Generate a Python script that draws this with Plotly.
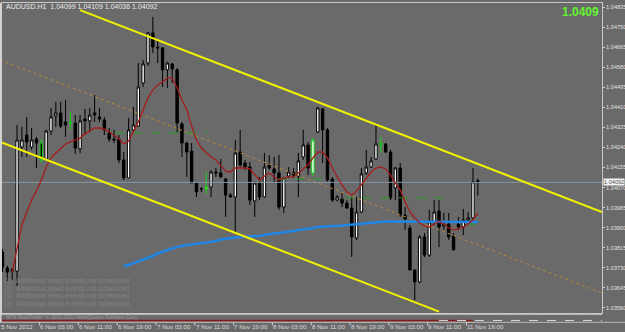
import plotly.graph_objects as go

# ---------------- data ----------------
open_ = [1.03796,1.03728,1.03715,1.03715,1.04242,1.04293,1.04242,1.04276,1.04259,1.04191,
         1.04310,1.04374,1.04387,1.04349,1.04349,1.04344,1.04234,1.04361,1.04353,1.04387,
         1.04370,1.04357,1.04302,1.04276,1.04276,1.04187,1.04111,1.04315,1.04331,1.04514,
         1.04599,1.04727,1.04667,1.04663,1.04570,1.04595,1.04570,1.04340,1.04259,1.04225,
         1.04089,1.04064,1.04064,1.04072,1.04136,1.04132,1.04106,1.04038,1.04030,1.04221,
         1.04174,1.04157,1.04013,1.04089,1.04030,1.04166,1.04149,1.04132,1.03987,1.04119,
         1.04136,1.04119,1.04200,1.04251,1.04132,1.04306,1.04404,1.04315,1.04106,1.04017,
         1.04021,1.04004,1.03983,1.03856,1.03966,1.04132,1.04157,1.04191,1.04259,1.04255,
         1.04221,1.04068,1.04153,1.03953,1.03898,1.03720,1.03669,1.03860,1.03783,1.03924,
         1.03970,1.03907,1.03915,1.03864,1.03915,1.03902,1.03932,1.03941,1.04099]
high = [1.03809,1.03737,1.03728,1.04336,1.04327,1.04370,1.04323,1.04285,1.04276,1.04315,
        1.04408,1.04434,1.04434,1.04442,1.04391,1.04378,1.04378,1.04404,1.04408,1.04463,
        1.04408,1.04370,1.04323,1.04315,1.04293,1.04221,1.04366,1.04412,1.04599,1.04612,
        1.04731,1.04795,1.04697,1.04667,1.04604,1.04599,1.04578,1.04349,1.04264,1.04259,
        1.04094,1.04072,1.04136,1.04145,1.04153,1.04191,1.04111,1.04047,1.04272,1.04315,
        1.04187,1.04179,1.04094,1.04115,1.04217,1.04208,1.04200,1.04208,1.04115,1.04157,
        1.04153,1.04217,1.04315,1.04264,1.04280,1.04412,1.04408,1.04323,1.04115,1.04038,
        1.04047,1.04017,1.04030,1.04030,1.04153,1.04230,1.04200,1.04344,1.04285,1.04259,
        1.04230,1.04157,1.04174,1.03987,1.03911,1.03720,1.03868,1.03877,1.03975,1.04017,
        1.04017,1.03962,1.03962,1.03877,1.03945,1.03979,1.03966,1.04153,1.04109]
low = [1.03711,1.03673,1.03677,1.03652,1.04200,1.04200,1.04230,1.04153,1.04174,1.04187,
       1.04293,1.04327,1.04323,1.04285,1.04315,1.04213,1.04217,1.04293,1.04306,1.04349,
       1.04349,1.04293,1.04264,1.04259,1.04174,1.04102,1.04111,1.04306,1.04331,1.04497,
       1.04587,1.04642,1.04599,1.04497,1.04493,1.04514,1.04302,1.04200,1.04115,1.04089,
       1.04030,1.04051,1.04043,1.04030,1.04115,1.04111,1.03945,1.04026,1.03881,1.04157,
       1.04145,1.03996,1.03945,1.04017,1.04026,1.04145,1.04094,1.03975,1.03962,1.04111,
       1.04111,1.04030,1.04187,1.04123,1.04119,1.04302,1.04174,1.04094,1.04009,1.04013,
       1.03987,1.03979,1.03775,1.03847,1.03962,1.04123,1.04153,1.04187,1.04217,1.04217,
       1.04017,1.04017,1.03945,1.03890,1.03720,1.03592,1.03664,1.03775,1.03775,1.03911,
       1.03817,1.03890,1.03847,1.03805,1.03890,1.03868,1.03924,1.03932,1.04036]
close = [1.03732,1.03711,1.03720,1.04272,1.04272,1.04264,1.04272,1.04259,1.04187,1.04310,
         1.04370,1.04387,1.04331,1.04336,1.04344,1.04238,1.04353,1.04353,1.04378,1.04378,
         1.04361,1.04315,1.04276,1.04272,1.04187,1.04111,1.04315,1.04336,1.04497,1.04595,
         1.04727,1.04667,1.04663,1.04570,1.04599,1.04574,1.04344,1.04259,1.04221,1.04089,
         1.04051,1.04064,1.04072,1.04136,1.04132,1.04115,1.04038,1.04030,1.04217,1.04166,
         1.04157,1.04017,1.04089,1.04030,1.04157,1.04153,1.04132,1.03987,1.04111,1.04136,
         1.04123,1.04183,1.04251,1.04153,1.04272,1.04408,1.04315,1.04102,1.04017,1.04030,
         1.04004,1.03983,1.03860,1.03966,1.04128,1.04157,1.04183,1.04255,1.04251,1.04221,
         1.04026,1.04153,1.03953,1.03936,1.03720,1.03669,1.03860,1.03783,1.03924,1.03966,
         1.03902,1.03915,1.03860,1.03805,1.03902,1.03932,1.03941,1.04094,1.04092]
flagged_bars = [8, 14, 42, 64, 78]          # candles painted green by an indicator

red_ma_start = 2
red_ma = [1.03711,1.03805,1.03911,1.03966,1.04017,1.04055,1.04102,1.04157,1.04196,1.04217,
          1.04238,1.04255,1.04264,1.04272,1.04280,1.04298,1.04310,1.04323,1.04323,1.04319,
          1.04306,1.04293,1.04276,1.04255,1.04268,1.04306,1.04349,1.04400,1.04451,1.04485,
          1.04506,1.04519,1.04536,1.04536,1.04493,1.04442,1.04400,1.04331,1.04272,1.04238,
          1.04217,1.04200,1.04187,1.04162,1.04140,1.04136,1.04153,1.04153,1.04153,1.04149,
          1.04123,1.04102,1.04119,1.04132,1.04115,1.04102,1.04111,1.04115,1.04115,1.04132,
          1.04145,1.04166,1.04196,1.04221,1.04221,1.04196,1.04153,1.04115,1.04081,1.04051,
          1.04038,1.04055,1.04081,1.04111,1.04136,1.04153,1.04157,1.04149,1.04123,1.04089,
          1.04060,1.04009,1.03966,1.03941,1.03919,1.03907,1.03902,1.03915,1.03928,1.03915,
          1.03898,1.03890,1.03894,1.03902,1.03915,1.03932,1.03962]
blue_ma_start = 25
blue_ma = [1.03737,1.03741,1.03749,1.03756,1.03762,1.03771,1.03779,1.03790,1.03798,1.03805,
           1.03811,1.03817,1.03822,1.03826,1.03828,1.03832,1.03834,1.03836,1.03839,1.03843,
           1.03849,1.03853,1.03856,1.03858,1.03860,1.03860,1.03862,1.03864,1.03864,1.03868,
           1.03873,1.03875,1.03877,1.03879,1.03881,1.03885,1.03890,1.03892,1.03896,1.03898,
           1.03902,1.03904,1.03907,1.03907,1.03907,1.03909,1.03909,1.03911,1.03913,1.03915,
           1.03919,1.03921,1.03924,1.03924,1.03926,1.03926,1.03926,1.03926,1.03926,1.03924,
           1.03924,1.03924,1.03924,1.03924,1.03924,1.03924,1.03924,1.03924,1.03924,1.03924,
           1.03924,1.03924,1.03924,1.03924]

# channel trend lines (bar index, price anchors)
upper_line_x = [16.0, 123.6]
upper_line_y = [1.04824, 1.03966]
lower_line_x = [-0.5, 90.0]
lower_line_y = [1.04264, 1.03543]
mid_line_x = [-0.5, 123.6]
mid_line_y = [1.04612, 1.03622]

# green dashed levels: (start bar, end bar, price)
level_start = [23.2, 56.6, 70.6, 95.8]
level_end = [42.2, 66.5, 91.6, 97.8]
level_price = [1.04302, 1.04106, 1.04026, 1.03915]

bid_price = 1.04092

price_ticks = [1.04835,1.04750,1.04665,1.04580,1.04495,1.04410,1.04325,1.04240,
               1.04155,1.04070,1.03985,1.03900,1.03815,1.03730,1.03645,1.03560]
time_tick_bars = [0, 8, 16, 24, 32, 40, 48, 56, 64, 72, 80, 88, 96]
time_tick_labels = ["5 Nov 2012", "6 Nov 03:00", "6 Nov 11:00", "6 Nov 19:00",
                    "7 Nov 03:00", "7 Nov 11:00", "7 Nov 19:00", "8 Nov 03:00",
                    "8 Nov 11:00", "8 Nov 19:00", "9 Nov 03:00", "9 Nov 11:00",
                    "11 Nov 19:00"]
news_lines = ["(1)  Additional news events not scheduled",
              "(2)  Additional news events not scheduled",
              "(3)  Additional news events not scheduled",
              "(4)  Additional news events not scheduled"]
title_text = "AUDUSD.H1  1.04099 1.04109 1.04036 1.04092"
big_price = "1.0409"

# ---------------- figure ----------------
BG = "#6a6a6a"
FONT = "Liberation Sans"
bars = list(range(len(open_)))

fig = go.Figure()

fig.add_trace(go.Scatter(x=mid_line_x, y=mid_line_y, mode="lines",
                         line=dict(color="#b8893a", width=1, dash="dot"), hoverinfo="skip"))
fig.add_trace(go.Scatter(x=[-1, 130], y=[bid_price, bid_price], mode="lines",
                         line=dict(color="#8797a6", width=1), hoverinfo="skip"))
for s, e, p in zip(level_start, level_end, level_price):
    fig.add_trace(go.Scatter(x=[s, e], y=[p, p], mode="lines",
                             line=dict(color="#22a022", width=1, dash="dash"), hoverinfo="skip"))

fig.add_trace(go.Scatter(x=list(range(blue_ma_start, blue_ma_start + len(blue_ma))), y=blue_ma,
                         mode="lines", line=dict(color="#1f86e6", width=2.5), hoverinfo="skip"))

norm = [i for i in bars if i not in flagged_bars]
flag = [i for i in bars if i in flagged_bars]

def candle(idx, line_col):
    return go.Candlestick(
        x=idx, open=[open_[i] for i in idx], high=[high[i] for i in idx],
        low=[low[i] for i in idx], close=[close[i] for i in idx],
        increasing=dict(line=dict(color=line_col, width=1), fillcolor="#ffffff"),
        decreasing=dict(line=dict(color=line_col, width=1), fillcolor="#000000"),
        whiskerwidth=0, hoverinfo="skip")

fig.add_trace(candle(norm, "#000000"))
fig.add_trace(candle(flag, "#19d219"))

fig.add_trace(go.Scatter(x=list(range(red_ma_start, red_ma_start + len(red_ma))), y=red_ma,
                         mode="lines", line=dict(color="#a51c1c", width=1.3), hoverinfo="skip"))

fig.add_trace(go.Scatter(x=upper_line_x, y=upper_line_y, mode="lines",
                         line=dict(color="#f2f200", width=2), hoverinfo="skip"))
fig.add_trace(go.Scatter(x=lower_line_x, y=lower_line_y, mode="lines",
                         line=dict(color="#f2f200", width=2), hoverinfo="skip"))

annotations = []
for b, t in zip(time_tick_bars, time_tick_labels):
    annotations.append(dict(x=b, xref="x", y=-0.042, yref="paper", text=t,
                            showarrow=False, xanchor="left", yanchor="middle", xshift=-2,
                            borderpad=0,
                            font=dict(family=FONT, size=6.2, color="#dcdcdc")))
for k, t in enumerate(news_lines):
    annotations.append(dict(x=0.002, xref="paper", y=0.103 - k * 0.0242, yref="paper", text=t,
                            showarrow=False, xanchor="left", yanchor="middle", borderpad=0,
                            font=dict(family=FONT, size=6.8, color="#828282")))
annotations.append(dict(x=0.005, xref="paper", y=0.99, yref="paper", text=title_text,
                        showarrow=False, xanchor="left", yanchor="middle", borderpad=0,
                        font=dict(family=FONT, size=7, color="#ececec")))
annotations.append(dict(x=0.998, xref="paper", y=0.972, yref="paper", text="<b>" + big_price + "</b>",
                        showarrow=False, xanchor="right", yanchor="middle",
                        font=dict(family=FONT, size=12, color="#62f52e")))
annotations.append(dict(x=1.0, xref="paper", y=bid_price, yref="y", text=f"{bid_price:.5f}",
                        showarrow=False, xanchor="left", yanchor="middle", xshift=1,
                        bgcolor="#f4f4f4", borderpad=0,
                        font=dict(family=FONT, size=5.6, color="#505050")))
annotations.append(dict(x=0.005, xref="paper", y=-0.012, yref="paper",
                        text="MT4 MetaTrader  © 2001-2012 MetaQuotes Software Corp.",
                        showarrow=False, xanchor="left", yanchor="middle", borderpad=0,
                        font=dict(family=FONT, size=5, color="#9a9a9a")))

shapes = [
    dict(type="line", xref="paper", yref="paper", x0=-0.01, x1=1.0, y0=-0.005, y1=-0.005,
         line=dict(color="#b9b9b9", width=1)),
    dict(type="line", xref="x", yref="paper", x0=-1, x1=97, y0=-0.024, y1=-0.024,
         line=dict(color="#8a1a1a", width=1.5)),
    dict(type="line", xref="x", yref="paper", x0=90, x1=124, y0=-0.024, y1=-0.024,
         line=dict(color="#dddddd", width=1, dash="dash")),
    dict(type="line", xref="paper", yref="paper", x0=-0.01, x1=1.04, y0=-0.03, y1=-0.03,
         line=dict(color="#bdbdbd", width=1)),
    dict(type="line", xref="paper", yref="paper", x0=-0.002, x1=-0.002, y0=-0.03, y1=1.0,
         line=dict(color="#d8d8d8", width=1.5)),
]
for b in time_tick_bars:
    shapes.append(dict(type="line", xref="x", yref="paper", x0=b - 0.35, x1=b - 0.35,
                       y0=-0.03, y1=-0.04, line=dict(color="#d0d0d0", width=1)))

fig.update_layout(
    width=625, height=332,
    margin=dict(l=2, r=23, t=3, b=19),
    paper_bgcolor=BG, plot_bgcolor=BG,
    showlegend=False,
    annotations=annotations, shapes=shapes,
    xaxis=dict(range=[-0.1, 123.6], showgrid=False, zeroline=False, showticklabels=False,
               rangeslider=dict(visible=False), showline=True, mirror=True,
               linecolor="#c8c8c8", linewidth=1, ticks=""),
    yaxis=dict(range=[1.03537, 1.04854], side="right", showgrid=False, zeroline=False,
               tickvals=price_ticks, ticktext=[f"{v:.5f}" for v in price_ticks],
               tickfont=dict(family=FONT, size=5.6, color="#e2e2e2"),
               ticks="outside", ticklen=2, tickcolor="#d0d0d0", ticklabelstandoff=0,
               showline=True, mirror=True, linecolor="#c8c8c8", linewidth=1,
               automargin=False),
)

fig.write_html("out.html")
